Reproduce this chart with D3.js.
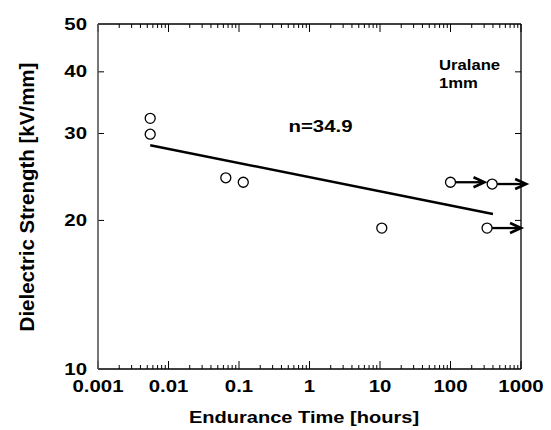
<!DOCTYPE html>
<html><head><meta charset="utf-8">
<script src="https://cdn.jsdelivr.net/npm/d3@7"></script>
<style>html,body{margin:0;padding:0;background:#fff;}svg{display:block;}</style>
</head><body>
<svg id="chart" width="551" height="430"></svg>
<script>
// ---- data ----
const times      = [0.0055, 0.0055, 0.065, 0.115, 10.6, 100, 390, 330];
const strengths  = [32.2, 29.9, 24.4, 23.9, 19.3, 23.9, 23.7, 19.3];
const runouts    = [false, false, false, false, false, true, true, true];
const fitTimes   = [0.0055, 400];
const fitValues  = [28.4, 20.6];
const xTickValues = [0.001, 0.01, 0.1, 1, 10, 100, 1000];
const xTickLabels = ["0.001", "0.01", "0.1", "1", "10", "100", "1000"];
const yTickValues = [10, 20, 30, 40, 50];
const yTickLabels = ["10", "20", "30", "40", "50"];
const slopeLabel = "n=34.9";
const noteLines = ["Uralane", "1mm"];
const xTitle = "Endurance Time [hours]";
const yTitle = "Dielectric Strength [kV/mm]";

// ---- layout ----
const L = 98, R = 521, T = 24, B = 369;
const svg = d3.select("#chart");
const x = d3.scaleLog().domain([0.001, 1000]).range([L, R]);
const y = d3.scaleLog().domain([10, 50]).range([B, T]);
const FONT = "'Liberation Sans', Arial, Helvetica, sans-serif";

function sText(px, py, str, size, anchor, sx) {
  return svg.append("text")
    .attr("transform", `translate(${px},${py}) scale(${sx},1)`)
    .attr("text-anchor", anchor)
    .attr("font-family", FONT).attr("font-weight", "bold")
    .attr("font-size", size).attr("fill", "#000").text(str);
}

// minor tick values for x
const minorX = [];
for (let e = -3; e < 3; e++) for (let m = 2; m <= 9; m++) minorX.push(m * Math.pow(10, e));

// x ticks bottom/top (inward)
const g = svg.append("g").attr("stroke", "#000").attr("stroke-width", 1);
minorX.forEach(v => {
  g.append("line").attr("x1", x(v)).attr("x2", x(v)).attr("y1", B).attr("y2", B - 4);
  g.append("line").attr("x1", x(v)).attr("x2", x(v)).attr("y1", T).attr("y2", T + 4);
});
xTickValues.forEach(v => {
  g.append("line").attr("x1", x(v)).attr("x2", x(v)).attr("y1", B).attr("y2", B - 8);
  g.append("line").attr("x1", x(v)).attr("x2", x(v)).attr("y1", T).attr("y2", T + 8);
});
// y ticks (inward), left and right
yTickValues.slice(1, -1).forEach(v => {
  g.append("line").attr("x1", L).attr("x2", L + 6).attr("y1", y(v)).attr("y2", y(v));
  g.append("line").attr("x1", R).attr("x2", R - 6).attr("y1", y(v)).attr("y2", y(v));
});

// frame
svg.append("line").attr("x1", L).attr("x2", R).attr("y1", T).attr("y2", T).attr("stroke", "#000").attr("stroke-width", 1.3);
svg.append("line").attr("x1", L).attr("x2", R).attr("y1", B).attr("y2", B).attr("stroke", "#000").attr("stroke-width", 1.3);
svg.append("line").attr("x1", R).attr("x2", R).attr("y1", T).attr("y2", B).attr("stroke", "#000").attr("stroke-width", 1.3);
svg.append("line").attr("x1", L).attr("x2", L).attr("y1", T).attr("y2", B).attr("stroke", "#555").attr("stroke-width", 1.6);

// tick labels
xTickValues.forEach((v, i) => sText(x(v), 392, xTickLabels[i], 17, "middle", 1.2));
yTickValues.forEach((v, i) => sText(87, y(v) + 5.5, yTickLabels[i], 17, "end", 1.2));

// axis titles
sText(304, 423, xTitle, 17, "middle", 1.18);
svg.append("text")
  .attr("transform", `translate(34,197) rotate(-90)`)
  .attr("text-anchor", "middle")
  .attr("font-family", FONT).attr("font-weight", "bold")
  .attr("font-size", 20.5).attr("fill", "#000").text(yTitle);

// fit line
svg.append("path")
  .datum(fitTimes.map((t, i) => [t, fitValues[i]]))
  .attr("d", d3.line().x(d => x(d[0])).y(d => y(d[1])))
  .attr("fill", "none").attr("stroke", "#000").attr("stroke-width", 2.5);

// run-out arrows
const pts = times.map((t, i) => ({ t, v: strengths[i], r: runouts[i] }));
pts.filter(d => d.r).forEach(d => {
  const cx = x(d.t), cy = y(d.v);
  const x0 = cx + 5, x1 = cx + 34;
  svg.append("line").attr("x1", x0).attr("x2", x1 - 1).attr("y1", cy).attr("y2", cy)
    .attr("stroke", "#000").attr("stroke-width", 2.3);
  svg.append("path")
    .attr("d", `M${x1 - 11},${cy - 5} L${x1},${cy} L${x1 - 11},${cy + 5}`)
    .attr("fill", "none").attr("stroke", "#000").attr("stroke-width", 2.6)
    .attr("stroke-linejoin", "miter");
});

// points
svg.append("g").selectAll("circle").data(pts).join("circle")
  .attr("cx", d => x(d.t)).attr("cy", d => y(d.v)).attr("r", 5)
  .attr("fill", "#fff").attr("stroke", "#000").attr("stroke-width", 1.3);

// annotations
sText(320.5, 132, slopeLabel, 17, "middle", 1.2);
sText(439, 70, noteLines[0], 14.5, "start", 1.15);
sText(439, 88, noteLines[1], 14.5, "start", 1.15);
</script>
</body></html>
